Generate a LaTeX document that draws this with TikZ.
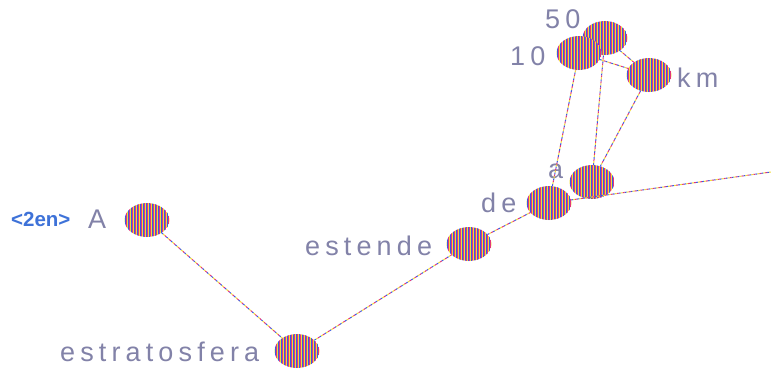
\documentclass[tikz,border=0pt]{standalone}
\usepackage{fontspec}
\setmainfont{Liberation Sans}
\newfontfamily\wordfont[LetterSpace=19]{Liberation Sans}
\usetikzlibrary{shapes.geometric}
\definecolor{sblue}{HTML}{3A5BE0}
\definecolor{sred}{HTML}{E2367A}
\definecolor{syel}{HTML}{F2DC3C}
\definecolor{wordc}{HTML}{8282A8}
\definecolor{tagc}{HTML}{3E72D8}
\begin{document}
\begin{tikzpicture}[x=1pt,y=-1pt,
  tok/.style={ellipse, minimum width=45pt, minimum height=34pt, inner sep=0pt, outer sep=0pt,
    path picture={\foreach \k in {-9,...,9}{
       \fill[sblue] ([xshift=\k*3pt]path picture bounding box.center) ++(-1.5pt,-20pt) rectangle ++(1pt,40pt);
       \fill[sred] ([xshift=\k*3pt]path picture bounding box.center) ++(-0.5pt,-20pt) rectangle ++(1pt,40pt);
       \fill[syel] ([xshift=\k*3pt]path picture bounding box.center) ++(0.5pt,-20pt) rectangle ++(1pt,40pt);
    }}},
  word/.style={text=wordc, font=\wordfont\fontsize{27}{32}\selectfont, inner sep=0pt, anchor=base west},
  tag/.style={text=tagc, font=\bfseries\fontsize{20.5}{24}\selectfont, inner sep=0pt, anchor=base west},
  link/.style={draw=sblue, line width=1pt, dash pattern=on 2pt off 4pt,
    postaction={draw=sred, dash pattern=on 2pt off 4pt, dash phase=2pt},
    postaction={draw=syel, dash pattern=on 2pt off 4pt, dash phase=4pt}}
]
\useasboundingbox (0,0) rectangle (771,370);

% token circles
\node[tok] (nA)    at (147,220) {};
\node[tok] (nEst)  at (297,351) {};
\node[tok] (nEsd)  at (469,244) {};
\node[tok] (nDe)   at (549,203) {};
\node[tok] (nPrep) at (592,182) {};
\node[tok] (n50)   at (605,38) {};
\node[tok] (n10)   at (579,53) {};
\node[tok] (nKm)   at (649,75) {};
\coordinate (out) at (771,172);

% word labels
\node[tag]  (tTag)  at (11,226)  {<2en>};
\node[word] (wA)    at (88,228)  {A};
\node[word] (wEst)  at (60,361)  {estratosfera};
\node[word] (wEsd)  at (305,255) {estende};
\node[word] (wDe)   at (481,212) {de};
\node[word] (wPrep) at (548,178) {a};
\node[word] (w10)   at (510,65)  {10};
\node[word] (w50)   at (545,28)  {50};
\node[word] (wKm)   at (677,87)  {km};

% dependency links
\draw[link] (nA) -- (nEst);
\draw[link] (nEst) -- (nEsd);
\draw[link] (nEsd) -- (nDe);
\draw[link] (nDe) -- (out);
\draw[link] (nDe) -- (n10);
\draw[link] (nPrep) -- (n50);
\draw[link] (nPrep) -- (nKm);
\draw[link] (n10) -- (nKm);
\draw[link] (n50) -- (nKm);
\end{tikzpicture}
\end{document}
